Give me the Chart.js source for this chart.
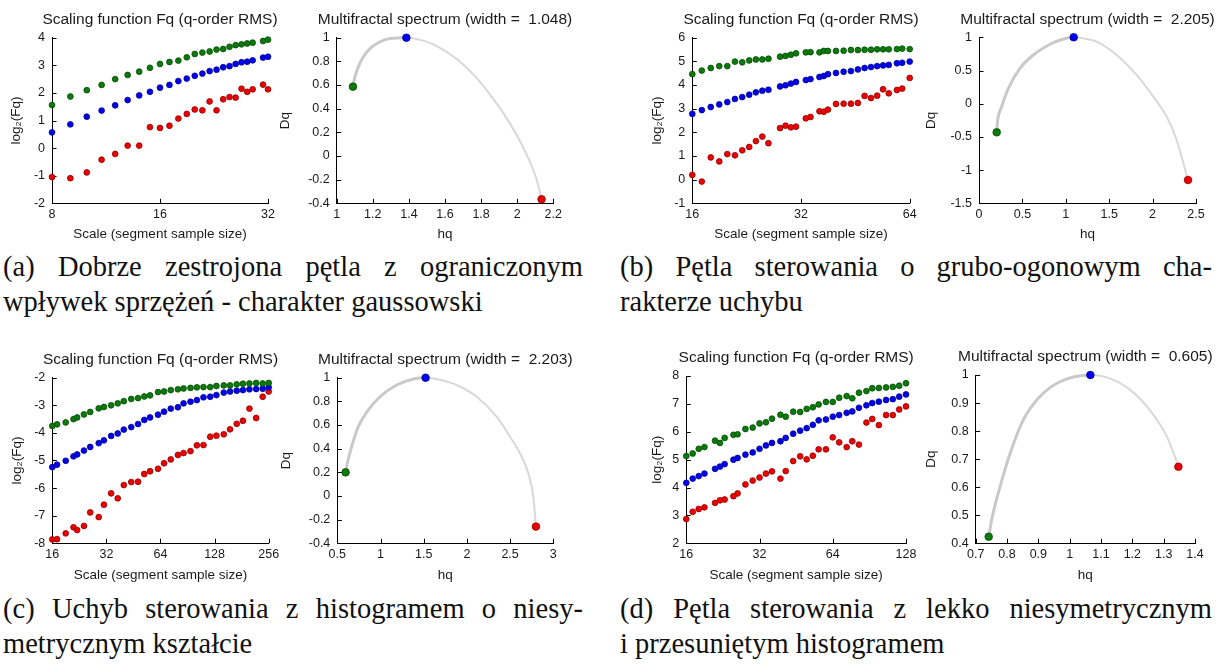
<!DOCTYPE html>
<html><head><meta charset="utf-8">
<script src="https://cdn.jsdelivr.net/npm/chart.js"></script>
<style>
html,body{margin:0;padding:0;background:#fff;width:1222px;height:668px;overflow:hidden;position:relative}
canvas{position:absolute}
.cap{position:absolute;font-family:"Liberation Serif","Times New Roman",serif;font-size:28.5px;line-height:35px;color:#111;white-space:nowrap}
.j{text-align:justify;text-align-last:justify;white-space:normal}
</style></head><body>
<div class="cap j" style="left:3px;top:249px;width:580px">(a) Dobrze zestrojona pętla z ograniczonym</div>
<div class="cap" style="left:3px;top:284px">wpływek sprzężeń - charakter gaussowski</div>
<div class="cap j" style="left:620px;top:249px;width:592px">(b) Pętla sterowania o grubo-ogonowym cha-</div>
<div class="cap" style="left:620px;top:284px">rakterze uchybu</div>
<div class="cap j" style="left:3px;top:591px;width:580px">(c) Uchyb sterowania z histogramem o niesy-</div>
<div class="cap" style="left:3px;top:626px">metrycznym kształcie</div>
<div class="cap j" style="left:620px;top:591px;width:592px">(d) Pętla sterowania z lekko niesymetrycznym</div>
<div class="cap" style="left:620px;top:626px">i przesuniętym histogramem</div>
<script>
// ---------- data ----------
const scaleTitle = 'Scaling function Fq (q-order RMS)';
const spectrumTitles = ['Multifractal spectrum (width =  1.048)','Multifractal spectrum (width =  2.205)','Multifractal spectrum (width =  2.203)','Multifractal spectrum (width =  0.605)'];

// (a)
const aScales = [8,9,10,11,12,13,14,15,16,17,18,19,20,21,22,23,24,25,26,27,28,29,31,32];
const aGreen = [1.56,1.87,2.10,2.29,2.50,2.65,2.77,2.91,3.05,3.12,3.17,3.29,3.41,3.46,3.50,3.57,3.59,3.67,3.73,3.76,3.79,3.82,3.88,3.93];
const aBlue  = [0.57,0.86,1.14,1.36,1.55,1.74,1.91,2.04,2.19,2.29,2.43,2.52,2.62,2.70,2.79,2.84,2.93,2.97,3.05,3.11,3.13,3.18,3.28,3.31];
const aRed   = [-1.05,-1.09,-0.88,-0.42,-0.21,0.09,0.09,0.76,0.73,0.81,1.07,1.24,1.40,1.37,1.69,1.37,1.77,1.85,1.83,2.15,2.04,2.13,2.30,2.13];
const aCurveH = [1.090,1.1015,1.120,1.148,1.185,1.240,1.295,1.386,1.480,1.572,1.665,1.757,1.849,1.941,2.034,2.108,2.135];
const aCurveD = [0.586,0.670,0.755,0.839,0.910,0.966,0.994,1.0,0.975,0.915,0.82,0.69,0.52,0.32,0.07,-0.20,-0.366];
const aPtH = [1.090,1.386,2.135];
const aPtD = [0.586,1.0,-0.366];

// (b)
const bScales = [16,17,18,19,20,21,22,23,24,25,26,28,29,30,31,33,34,36,37,38,40,42,44,46,48,50,52,54,56,59,61,64];
const bGreen = [4.46,4.61,4.72,4.80,4.80,4.99,4.96,5.04,5.08,5.08,5.11,5.20,5.23,5.28,5.34,5.38,5.39,5.38,5.44,5.44,5.44,5.45,5.48,5.48,5.49,5.49,5.51,5.51,5.51,5.52,5.54,5.52];
const bBlue  = [2.78,2.94,3.07,3.18,3.28,3.41,3.49,3.59,3.69,3.76,3.80,3.94,3.99,4.06,4.13,4.21,4.25,4.34,4.38,4.46,4.51,4.56,4.59,4.66,4.72,4.76,4.80,4.83,4.85,4.92,4.94,4.99];
const bRed   = [0.20,-0.08,0.94,0.77,1.08,1.03,1.24,1.38,1.63,1.82,1.54,2.18,2.28,2.21,2.24,2.59,2.65,2.89,2.87,2.96,3.20,3.21,3.21,3.24,3.54,3.45,3.55,3.82,3.65,3.79,3.85,4.30];
const bCurveH = [0.204,0.211,0.261,0.338,0.472,0.626,0.818,0.972,1.091,1.220,1.356,1.586,1.816,2.008,2.162,2.277,2.408];
const bCurveD = [-0.431,-0.295,-0.044,0.232,0.533,0.734,0.895,0.975,1.0,0.98,0.935,0.734,0.433,0.106,-0.195,-0.546,-1.149];
const bPtH = [0.204,1.091,2.408];
const bPtD = [-0.431,1.0,-1.149];

// (c)
const cScales = [16,17,19,21,22,24,26,29,31,34,37,40,44,48,52,56,62,67,73,80,86,94,102,111,121,131,144,156,170,184,200,218,237,256];
const cGreen = [-3.75,-3.69,-3.62,-3.50,-3.44,-3.33,-3.24,-3.11,-3.06,-3.00,-2.93,-2.85,-2.77,-2.74,-2.68,-2.64,-2.52,-2.50,-2.45,-2.42,-2.39,-2.37,-2.35,-2.34,-2.34,-2.30,-2.28,-2.28,-2.24,-2.22,-2.21,-2.19,-2.21,-2.19];
const cBlue  = [-5.24,-5.15,-5.01,-4.85,-4.78,-4.64,-4.51,-4.37,-4.27,-4.11,-4.02,-3.88,-3.79,-3.68,-3.53,-3.44,-3.34,-3.23,-3.12,-3.07,-2.93,-2.87,-2.81,-2.71,-2.69,-2.63,-2.54,-2.50,-2.47,-2.45,-2.42,-2.41,-2.40,-2.35];
const cRed   = [-7.86,-7.85,-7.64,-7.42,-7.52,-7.37,-6.88,-7.05,-6.60,-6.19,-6.37,-5.89,-5.78,-5.77,-5.49,-5.39,-5.30,-5.10,-4.96,-4.80,-4.73,-4.66,-4.45,-4.44,-4.14,-4.10,-4.05,-3.87,-3.67,-3.56,-3.12,-3.46,-2.69,-2.50];
const cCurveH = [0.596,0.616,0.666,0.743,0.859,0.994,1.187,1.380,1.522,1.700,1.881,2.113,2.344,2.499,2.614,2.711,2.769,2.799];
const cCurveD = [0.200,0.276,0.417,0.586,0.727,0.839,0.938,0.989,1.0,0.98,0.938,0.839,0.670,0.501,0.361,0.192,-0.006,-0.259];
const cPtH = [0.596,1.522,2.799];
const cPtD = [0.200,1.0,-0.259];

// (d)
const dScales = [16,17,18,19,21,22,23,25,26,28,30,32,34,36,39,41,44,47,50,53,56,60,64,68,73,77,82,88,93,99,106,113,120,128];
const dGreen = [5.13,5.22,5.39,5.45,5.68,5.60,5.78,5.89,5.91,6.10,6.15,6.30,6.34,6.47,6.61,6.54,6.72,6.71,6.82,6.88,6.98,7.07,7.07,7.22,7.28,7.20,7.40,7.46,7.56,7.57,7.59,7.61,7.65,7.74];
const dBlue  = [4.17,4.32,4.41,4.50,4.67,4.75,4.84,5.00,5.06,5.18,5.26,5.39,5.51,5.60,5.66,5.78,5.93,6.04,6.13,6.25,6.41,6.44,6.54,6.60,6.68,6.73,6.86,6.95,7.03,7.08,7.14,7.17,7.26,7.34];
const dRed   = [2.87,3.13,3.23,3.29,3.45,3.54,3.57,3.69,3.79,4.11,4.25,4.36,4.50,4.58,4.32,4.59,4.95,5.12,5.01,5.14,5.37,5.37,5.80,5.62,5.45,5.66,5.54,6.33,6.46,6.24,6.60,6.60,6.80,6.91];
const dCurveH = [0.7415,0.751,0.778,0.810,0.852,0.905,0.969,1.066,1.128,1.193,1.256,1.310,1.336,1.347];
const dCurveD = [0.4235,0.484,0.603,0.721,0.840,0.923,0.976,1.0,0.988,0.947,0.875,0.781,0.709,0.673];
const dPtH = [0.7415,1.066,1.347];
const dPtD = [0.4235,1.0,0.673];

// tick labels for the log2 scale axes
const aTicks = [8,16,32];
const bTicks = [16,32,64];
const cTicks = [16,32,64,128,256];
const dTicks = [16,32,64,128];

// ---------- styling ----------
const FILL = ['#0b7a0b','#0000ee','#ee0000'];
const EDGE = ['#024a02','#00008c','#8c0000'];
const TXT = '#1a1a1a';
Chart.defaults.font.family = '"Liberation Sans", Arial, Helvetica, sans-serif';
Chart.defaults.color = TXT;

const fmt = v => String(Number(Number(v).toFixed(4)));

const deco = {
  id: 'deco',
  beforeDatasetsDraw(chart) {
    const {ctx, chartArea: a} = chart;
    const xs = chart.scales.x, ys = chart.scales.y;
    ctx.save();
    ctx.strokeStyle = '#000'; ctx.lineWidth = 1;
    xs.ticks.forEach(t => {
      const px = Math.round(xs.getPixelForValue(t.value)) + 0.5;
      ctx.beginPath(); ctx.moveTo(px, a.bottom); ctx.lineTo(px, a.bottom - 4.5); ctx.stroke();
    });
    ys.ticks.forEach(t => {
      const py = Math.round(ys.getPixelForValue(t.value)) + 0.5;
      ctx.beginPath(); ctx.moveTo(a.left, py); ctx.lineTo(a.left + 4.5, py); ctx.stroke();
    });
    ctx.restore();
  },
  afterDraw(chart, args, opts) {
    const {ctx, chartArea: a} = chart;
    ctx.save();
    ctx.font = '15.5px "Liberation Sans", Arial, sans-serif';
    ctx.fillStyle = TXT; ctx.textAlign = 'center'; ctx.textBaseline = 'middle';
    ctx.fillText(opts.title, (a.left + a.right) / 2, a.top - 18);
    ctx.restore();
  }
};

function pts(xs, ys) { return xs.map((x, i) => ({x, y: ys[i]})); }

function makeChart(cfg) {
  const c = document.createElement('canvas');
  c.width = cfg.W; c.height = cfg.H;
  c.style.left = cfg.L + 'px'; c.style.top = cfg.T + 'px';
  c.style.width = cfg.W + 'px'; c.style.height = cfg.H + 'px';
  document.body.appendChild(c);
  const yW = cfg.x0 - cfg.L, padR = cfg.L + cfg.W - cfg.x1, padT = cfg.y0 - cfg.T, xH = cfg.T + cfg.H - cfg.y1;
  const xScale = {
    type: cfg.xlog ? 'logarithmic' : 'linear', min: cfg.xmin, max: cfg.xmax,
    ticks: {padding: 4, maxRotation: 0, autoSkip: false, color: TXT, font: {size: 12.5}, callback: fmt},
    grid: {display: true, drawOnChartArea: false, drawTicks: false},
    border: {display: true, color: '#000', width: 1},
    title: {display: true, text: cfg.xtitle, color: TXT, font: {size: 13.5}, padding: {top: 0, bottom: cfg.xtpad}},
    afterFit: s => { s.height = xH; }
  };
  if (cfg.xlog) {
    xScale.afterBuildTicks = s => { s.ticks = cfg.xticks.map(v => ({value: v})); };
  } else {
    xScale.ticks.stepSize = cfg.xstep;
  }
  const yScale = {
    type: 'linear', min: cfg.ymin, max: cfg.ymax,
    ticks: {stepSize: cfg.ystep, padding: 7, color: TXT, font: {size: 12.5}, callback: fmt},
    grid: {display: true, drawOnChartArea: false, drawTicks: false},
    border: {display: true, color: '#000', width: 1},
    title: {display: true, text: cfg.ytitle, color: TXT, font: {size: 13.5}, padding: {top: cfg.ytpad, bottom: 0}},
    afterFit: s => { s.width = yW; }
  };
  return new Chart(c, {
    type: 'scatter',
    data: {datasets: cfg.datasets},
    options: {
      responsive: false, animation: false, devicePixelRatio: 1, locale: 'en-US',
      layout: {padding: {top: padT, right: padR, left: 0, bottom: 0}},
      plugins: {legend: {display: false}, tooltip: {enabled: false}, deco: {title: cfg.title}},
      scales: {x: xScale, y: yScale}
    },
    plugins: [deco]
  });
}

function scalingSets(xs, g, b, r) {
  return [g, b, r].map((ys, i) => ({
    data: pts(xs, ys), pointRadius: 2.9, pointBackgroundColor: FILL[i],
    pointBorderColor: EDGE[i], pointBorderWidth: 0.8, clip: false, showLine: false
  }));
}
function spectrumSets(ch, cd, ph, pd) {
  const peak = ph[1];
  return [
    {data: pts(ph, pd), showLine: false, pointRadius: 3.8, pointBackgroundColor: FILL,
     pointBorderColor: EDGE, pointBorderWidth: 0.8, clip: false},
    {data: pts(ch, cd), showLine: true, pointRadius: 0, cubicInterpolationMode: 'monotone', clip: false,
     borderColor: '#cdcdcd', borderWidth: 2.5,
     segment: {
       borderWidth: s => s.p1.parsed.x <= peak + 1e-9 ? 3 : 2,
       borderColor: s => s.p1.parsed.x <= peak + 1e-9 ? '#c9c9c9' : '#d8d8d8'
     }}
  ];
}

const XS = 'Scale (segment sample size)';
const YS = 'log\u2082(Fq)';

// top row
makeChart({L:0, T:0, W:290, H:250, x0:52, x1:268, y0:37.7, y1:203.3, xlog:true, xmin:8, xmax:32, xticks:aTicks,
  ymin:-2, ymax:4, ystep:1, xtitle:XS, ytitle:YS, xtpad:7.9, ytpad:7.9, title:scaleTitle,
  datasets: scalingSets(aScales, aGreen, aBlue, aRed)});
makeChart({L:275, T:0, W:305, H:250, x0:336.7, x1:553.3, y0:37.7, y1:203.3, xmin:1, xmax:2.2, xstep:0.2,
  ymin:-0.4, ymax:1, ystep:0.2, xtitle:'hq', ytitle:'Dq', xtpad:7.9, ytpad:1.9, title:spectrumTitles[0],
  datasets: spectrumSets(aCurveH, aCurveD, aPtH, aPtD)});
makeChart({L:620, T:0, W:310, H:250, x0:692.3, x1:909.7, y0:37.7, y1:203.3, xlog:true, xmin:16, xmax:64, xticks:bTicks,
  ymin:-1, ymax:6, ystep:1, xtitle:XS, ytitle:YS, xtpad:7.9, ytpad:28.9, title:scaleTitle,
  datasets: scalingSets(bScales, bGreen, bBlue, bRed)});
makeChart({L:920, T:0, W:302, H:250, x0:979, x1:1196, y0:37.3, y1:203.3, xmin:0, xmax:2.5, xstep:0.5,
  ymin:-1.5, ymax:1, ystep:0.5, xtitle:'hq', ytitle:'Dq', xtpad:7.9, ytpad:2.9, title:spectrumTitles[1],
  datasets: spectrumSets(bCurveH, bCurveD, bPtH, bPtD)});

// bottom row
makeChart({L:0, T:330, W:290, H:260, x0:52.3, x1:268.7, y0:377.7, y1:543.3, xlog:true, xmin:16, xmax:256, xticks:cTicks,
  ymin:-8, ymax:-2, ystep:1, xtitle:XS, ytitle:YS, xtpad:6.9, ytpad:8.9, title:scaleTitle,
  datasets: scalingSets(cScales, cGreen, cBlue, cRed)});
makeChart({L:275, T:330, W:305, H:260, x0:337.3, x1:553.3, y0:377.7, y1:543.3, xmin:0.5, xmax:3, xstep:0.5,
  ymin:-0.4, ymax:1, ystep:0.2, xtitle:'hq', ytitle:'Dq', xtpad:6.9, ytpad:2.9, title:spectrumTitles[2],
  datasets: spectrumSets(cCurveH, cCurveD, cPtH, cPtD)});
makeChart({L:620, T:330, W:310, H:260, x0:686.3, x1:906, y0:376, y1:543.3, xlog:true, xmin:16, xmax:128, xticks:dTicks,
  ymin:2, ymax:8, ystep:1, xtitle:XS, ytitle:YS, xtpad:6.9, ytpad:29.4, title:scaleTitle,
  datasets: scalingSets(dScales, dGreen, dBlue, dRed)});
makeChart({L:920, T:330, W:302, H:260, x0:975.7, x1:1195, y0:375, y1:543.3, xmin:0.7, xmax:1.4, xstep:0.1,
  ymin:0.4, ymax:1, ystep:0.1, xtitle:'hq', ytitle:'Dq', xtpad:6.9, ytpad:2.9, title:spectrumTitles[3],
  datasets: spectrumSets(dCurveH, dCurveD, dPtH, dPtD)});
</script>
</body></html>
